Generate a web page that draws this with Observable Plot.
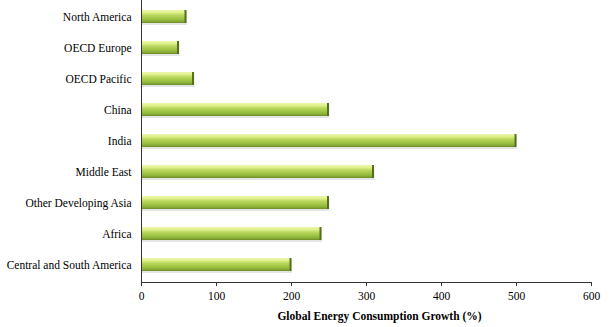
<!DOCTYPE html>
<html>
<head>
<meta charset="utf-8">
<script src="https://cdn.jsdelivr.net/npm/d3@7"></script>
<script src="https://cdn.jsdelivr.net/npm/@observablehq/plot@0.6"></script>
<style>
  html, body { margin: 0; padding: 0; background: #fff; }
  #chart svg { display: block; }
  #chart svg, #chart svg text { font-family: "Liberation Serif", "DejaVu Serif", serif !important; }
</style>
</head>
<body>
<div id="chart"></div>
<script>
const regions = ["North America", "OECD Europe", "OECD Pacific", "China", "India", "Middle East", "Other Developing Asia", "Africa", "Central and South America"];
const growth = [60, 50, 70, 250, 500, 310, 250, 240, 200];
const xTicks = [0, 100, 200, 300, 400, 500, 600];
const xLabel = "Global Energy Consumption Growth (%)";

const data = regions.map((r, i) => ({region: r, value: growth[i]}));
const serif = "Liberation Serif, DejaVu Serif, serif";

const plot = Plot.plot({
  width: 615,
  height: 327,
  marginLeft: 141,
  marginRight: 24,
  marginTop: 0,
  marginBottom: 45,
  style: {fontSize: "11.5px", color: "#000", background: "#fff"},
  x: {domain: [0, 600]},
  y: {domain: regions, paddingInner: 0.58, paddingOuter: 0.29},
  marks: [
    Plot.barX(data, {x: "value", y: "region", fill: "#bdbdbd", fillOpacity: 0.4, dx: 1, dy: 2}),
    Plot.barX(data, {x: "value", y: "region", fill: "url(#barGrad)"}),
    Plot.tickX(data, {x: "value", y: "region", stroke: "#55701c", strokeWidth: 2, dx: -1}),
    Plot.ruleX([0], {stroke: "#333", strokeWidth: 1}),
    Plot.frame({anchor: "bottom", stroke: "#333"}),
    Plot.axisX(xTicks, {tickSize: 4, tickPadding: 5, stroke: "#333", label: null, fontSize: 11.5, fontFamily: serif, fill: "#000"}),
    Plot.axisY({tickSize: 0, tickPadding: 10, label: null, fontSize: 11.5, fontFamily: serif, fill: "#000"}),
    Plot.text([xLabel], {frameAnchor: "bottom", dx: 13, dy: 37, fontWeight: "bold", fontSize: 11.5, fontFamily: serif, fill: "#000"})
  ]
});

const ns = "http://www.w3.org/2000/svg";
const defs = document.createElementNS(ns, "defs");
defs.innerHTML = `<linearGradient id="barGrad" x1="0" y1="0" x2="0" y2="1">
  <stop offset="0" stop-color="#eef7b0"/>
  <stop offset="0.2" stop-color="#dff08a"/>
  <stop offset="0.38" stop-color="#bcd960"/>
  <stop offset="0.65" stop-color="#9fc545"/>
  <stop offset="0.85" stop-color="#8bb038"/>
  <stop offset="1" stop-color="#6b8a27"/>
</linearGradient>`;
plot.insertBefore(defs, plot.firstChild);
document.getElementById("chart").appendChild(plot);
</script>
</body>
</html>
